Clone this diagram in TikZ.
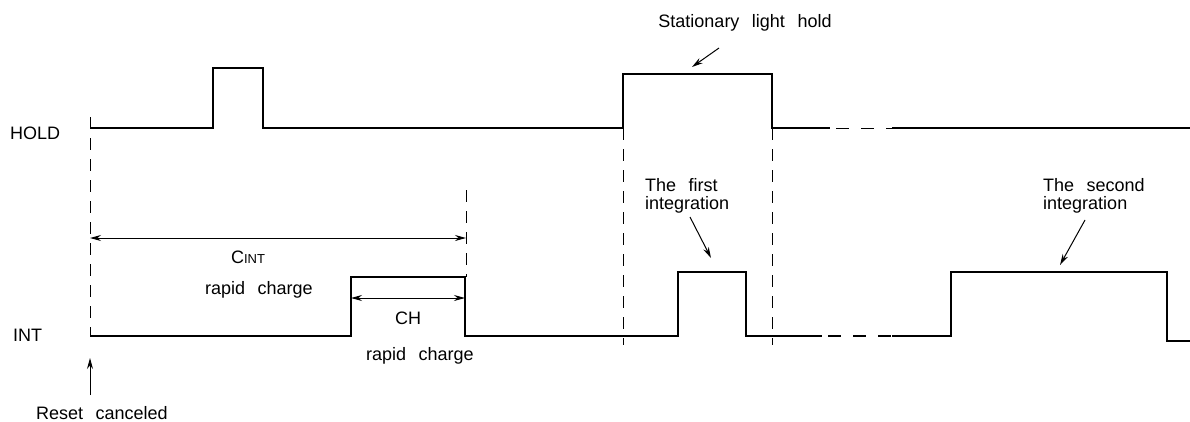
\documentclass[tikz,border=0pt]{standalone}
\usepackage{fontspec}
\setmainfont{Liberation Sans}[WordSpace=2.5]
\usetikzlibrary{arrows.meta}
\begin{document}
\begin{tikzpicture}[x=1pt,y=-1pt,line cap=butt,line join=miter,>={Stealth[length=11pt,width=6pt]},font=\fontsize{18}{18}\selectfont]
	\tikzset{wave/.style={line width=2.6pt},
		guide/.style={line width=1pt,dash pattern=on 12pt off 9pt},
		brk/.style={dash pattern=on 13pt off 12pt,dash phase=-6pt},
		span/.style={<->,line width=1pt},
		tag/.style={inner sep=0pt,align=left}
	}
	\useasboundingbox (0,0) rectangle (1190,421);
	\node[tag,anchor=west] (hold) at (10,133) {HOLD};
	\node[tag,anchor=west] (int) at (13,335) {INT};
	\draw[wave] (90,128) -- (213,128) |- (263,68) |- (623,128) |- (772,74) |- (830,128);
	\draw[line width=1pt,brk] (830,128) -- (892,128);
	\draw[wave] (892,128) -- (1190,128);
	\draw[wave] (90,336) -- (351,336) |- (465,277) |- (678,336) |- (746,272) |- (822,336);
	\draw[wave,brk] (822,336) -- (892,336);
	\draw[wave] (892,336) -- (951,336) |- (1167,272) |- (1190,341);
	\draw[guide] (90,117) -- (90,336)
		(466,190) -- (466,277)
		(623,128) -- (623,345)
		(772,128) -- (772,345);
	\coordinate (rst) at (90,358);
	\coordinate (rsttail) at (90,395);
	\draw[->,line width=1pt] (rsttail) -- (rst);
	\node[tag] (rstlbl) at (102,413) {Reset canceled};
	\coordinate (cintl) at (90,238);
	\coordinate (cintr) at (466,238);
	\draw[span] (cintl) -- (cintr);
	\node[tag] (cint) at (248,257) {C{\fontsize{13}{13}\selectfont INT}};
	\node[tag] (cintrc) at (259,290) {rapid charge};
	\coordinate (chl) at (351,298);
	\coordinate (chr) at (465,298);
	\draw[span] (chl) -- (chr);
	\node[tag] (ch) at (408,318) {CH};
	\node[tag] (chrc) at (420,356) {rapid charge};
	\node[tag] (stat) at (745,23) {Stationary light hold};
	\coordinate (stattail) at (719,48);
	\coordinate (stattip) at (692,67);
	\draw[->,line width=1pt] (stattail) -- (stattip);
	\node[tag,anchor=west] (first) at (645,196) {The first\\integration};
	\coordinate (firsttail) at (690,217);
	\coordinate (firsttip) at (711,258);
	\draw[->,line width=1pt] (firsttail) -- (firsttip);
	\node[tag,anchor=west] (second) at (1043,196) {The second\\integration};
	\coordinate (secondtail) at (1085,220);
	\coordinate (secondtip) at (1060,265);
	\draw[->,line width=1pt] (secondtail) -- (secondtip);
\end{tikzpicture}
\end{document}
